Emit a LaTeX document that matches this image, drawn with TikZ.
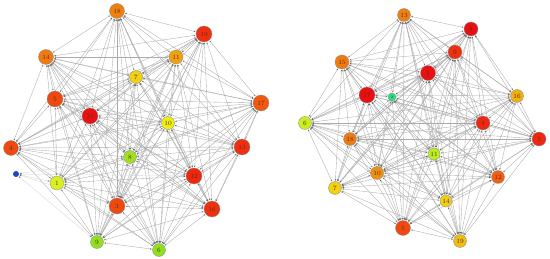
\documentclass[tikz,border=0pt]{standalone}
\usetikzlibrary{arrows.meta,backgrounds}
\definecolor{cA}{HTML}{EE8010}
\definecolor{cB}{HTML}{EE7A10}
\definecolor{cC}{HTML}{EE4A10}
\definecolor{cD}{HTML}{E81010}
\definecolor{cE}{HTML}{F0D010}
\definecolor{cF}{HTML}{EE3010}
\definecolor{cG}{HTML}{F0A010}
\definecolor{cH}{HTML}{F05A10}
\definecolor{cI}{HTML}{F0F010}
\definecolor{cJ}{HTML}{D8F020}
\definecolor{cK}{HTML}{A0E020}
\definecolor{cL}{HTML}{90E020}
\definecolor{cM}{HTML}{EE2810}
\definecolor{cN}{HTML}{1848C8}
\definecolor{cO}{HTML}{20E080}
\definecolor{cP}{HTML}{C8F020}
\definecolor{cQ}{HTML}{F0B010}
\definecolor{cR}{HTML}{F09010}
\definecolor{cS}{HTML}{B8F020}
\definecolor{cT}{HTML}{F06010}
\definecolor{cU}{HTML}{F0C010}
\definecolor{edgegray}{HTML}{ABABAB}
\definecolor{labelcol}{HTML}{5A2A10}
\begin{document}
\begin{tikzpicture}[x=1pt,y=-1pt,
  vnode/.style={circle,draw=black!45,line width=0.3pt,inner sep=0pt,minimum size=#1,
    font=\fontsize{6.5}{7}\selectfont,text=labelcol},
  vnode/.default=14pt,
  edge/.style={draw=edgegray,line width=0.35pt,
    {Stealth[length=1.8pt,width=1.4pt,black!60]}-{Stealth[length=1.8pt,width=1.4pt,black!60]},
    shorten <=0.6pt,shorten >=0.6pt}]
\useasboundingbox (0,0) rectangle (550,259);
% ---------- left graph ----------
\node[vnode=15pt,fill=cA] (L18) at (117,11) {18};
\node[vnode=15pt,fill=cB] (L14) at (46,57) {14};
\node[vnode=16pt,fill=cC] (L5) at (55,99) {5};
\node[vnode=16pt,fill=cD] (L15) at (90,116) {15};
\node[vnode=13pt,fill=cE] (L7) at (136,77) {7};
\node[vnode=16pt,fill=cF] (L19) at (204,34) {19};
\node[vnode=14pt,fill=cG] (L11) at (176,57) {11};
\node[vnode=16pt,fill=cH] (L17) at (261,103) {17};
\node[vnode=13pt,fill=cI] (L10) at (168,123) {10};
\node[vnode=15pt,fill=cC] (L4) at (11,148) {4};
\node[circle,fill=cN,inner sep=0pt,minimum size=6pt] (L2) at (16,174) {};
\node[vnode=14pt,fill=cJ] (L1) at (57,183) {1};
\node[vnode=13pt,fill=cK] (L8) at (130,157) {8};
\node[vnode=16pt,fill=cC] (L3) at (117,206) {3};
\node[vnode=13pt,fill=cL] (L9) at (97,242) {9};
\node[vnode=16pt,fill=cF] (L13) at (242,147) {13};
\node[vnode=16pt,fill=cM] (L12) at (194,176) {12};
\node[vnode=16pt,fill=cF] (L16) at (212,209) {16};
\node[vnode=13pt,fill=cL] (L6) at (159,250) {6};
% ---------- right graph ----------
\node[vnode=13pt,fill=cA] (R13) at (404,15) {13};
\node[vnode=14pt,fill=cB] (R15) at (342,62) {15};
\node[vnode=16pt,fill=cD] (R17) at (367,95) {17};
\node[vnode=8pt,fill=cO,font=\fontsize{3.5}{4}\selectfont] (R2) at (392,97) {2};
\node[vnode=13pt,fill=cP] (R6) at (305,123) {6};
\node[vnode=14pt,fill=cD] (R8) at (471,29) {8};
\node[vnode=14pt,fill=cF] (R9) at (455,52) {9};
\node[vnode=15pt,fill=cD] (R1) at (428,73) {1};
\node[vnode=13pt,fill=cQ] (R16) at (517,96) {16};
\node[vnode=14pt,fill=cM] (R4) at (483,123) {4};
\node[vnode=13pt,fill=cB] (R18) at (350,139) {18};
\node[vnode=13pt,fill=cR] (R10) at (377,173) {10};
\node[vnode=13pt,fill=cE] (R7) at (335,188) {7};
\node[vnode=15pt,fill=cC] (R5) at (403,228) {5};
\node[vnode=12pt,fill=cS] (R11) at (434,154) {11};
\node[vnode=14pt,fill=cM] (R3) at (539,139) {3};
\node[vnode=13pt,fill=cT] (R12) at (498,177) {12};
\node[vnode=12pt,fill=cE] (R14) at (446,201) {14};
\node[vnode=13pt,fill=cU] (R19) at (460,241) {19};
% ---------- edges ----------
\begin{pgfonlayer}{background}
\foreach \a [count=\i] in {L18,L14,L5,L15,L7,L19,L11,L17,L10,L4,L1,L8,L3,L9,L13,L12,L16,L6}{
  \foreach \b [count=\j] in {L18,L14,L5,L15,L7,L19,L11,L17,L10,L4,L1,L8,L3,L9,L13,L12,L16,L6}{
    \ifnum\j>\i \draw[edge] (\a) -- (\b); \fi
  }
}
\foreach \b in {L1,L8,L3,L9,L12}{
  \draw[edge,draw=edgegray!50] (L2) -- (\b);
}
\foreach \a [count=\i] in {R13,R15,R17,R6,R8,R9,R1,R16,R4,R18,R10,R7,R5,R11,R3,R12,R14,R19}{
  \foreach \b [count=\j] in {R13,R15,R17,R6,R8,R9,R1,R16,R4,R18,R10,R7,R5,R11,R3,R12,R14,R19}{
    \ifnum\j>\i \draw[edge] (\a) -- (\b); \fi
  }
}
\foreach \b in {R13,R17,R1,R9,R4,R10,R11,R5,R12,R3,R14,R18}{
  \draw[edge] (R2) -- (\b);
}
\end{pgfonlayer}
\end{tikzpicture}
\end{document}
